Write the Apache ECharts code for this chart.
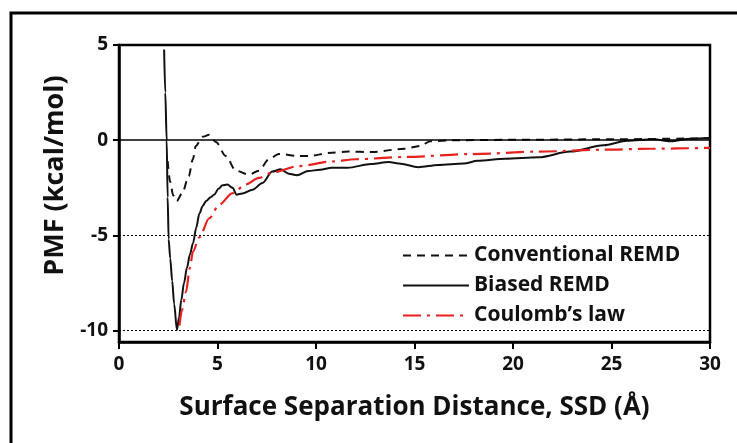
<!DOCTYPE html>
<html>
<head>
<meta charset="utf-8">
<script src="https://cdn.jsdelivr.net/npm/echarts@6/dist/echarts.min.js"></script>
<style>
  html, body { margin: 0; padding: 0; background: #fff; }
  #chart { width: 737px; height: 443px; }
</style>
</head>
<body>
<div id="chart"></div>
<script>
// 读图估计的数据
var conventionalX = [2.47, 2.6, 2.75, 2.93, 3.2, 3.54, 3.75, 3.9, 4.24, 4.58, 4.92, 5.42, 5.93, 6.6, 7.1, 7.61, 8.12, 9.12, 9.6, 10.8, 11.65, 12.8, 14.5, 15.3, 15.8, 17, 20, 25, 30];
var conventionalY = [-1.1, -2.2, -2.9, -3.2, -2.8, -1.9, -1.0, -0.3, 0.18, 0.28, -0.1, -0.83, -1.6, -1.81, -1.6, -1.0, -0.72, -0.83, -0.83, -0.66, -0.6, -0.62, -0.45, -0.3, -0.05, 0, 0.02, 0.05, 0.1];

var biasedX = [2.29, 2.35, 2.42, 2.47, 2.52, 2.6, 2.7, 2.8, 2.94, 3.05, 3.16, 3.3, 3.45, 3.6, 3.76, 3.92, 4.08, 4.25, 4.42, 4.65, 4.84, 5.05, 5.25, 5.5, 5.77, 5.96, 6.26, 6.78, 7.28, 7.78, 8.2, 8.62, 9.04, 9.6, 10.2, 10.8, 11.6, 12.8, 13.7, 14.2, 15.2, 16.2, 17.5, 18.2, 19.6, 21.3, 22.9, 24.6, 25.8, 27.1, 28, 29, 30];
var biasedY = [4.76, 2.5, 0, -3, -5.2, -6.2, -7.4, -8.6, -9.97, -9.3, -8.4, -7.5, -6.7, -6.0, -5.4, -4.6, -3.85, -3.45, -3.2, -3.0, -2.85, -2.55, -2.37, -2.33, -2.5, -2.86, -2.8, -2.6, -2.25, -1.65, -1.53, -1.76, -1.84, -1.62, -1.55, -1.45, -1.45, -1.25, -1.15, -1.22, -1.42, -1.3, -1.23, -1.08, -0.97, -0.9, -0.6, -0.27, -0.03, 0.05, -0.05, 0.08, 0.12];

var coulombX = [3.07, 3.2, 3.4, 3.6, 3.75, 4.08, 4.58, 5.08, 5.77, 6.43, 7.1, 7.78, 9.12, 10.8, 12, 14.5, 17.9, 21.3, 24.6, 27, 30];
var coulombY = [-9.74, -8.9, -7.98, -6.7, -5.86, -5.1, -4.1, -3.39, -2.78, -2.33, -1.98, -1.7, -1.36, -1.12, -1.0, -0.88, -0.73, -0.6, -0.5, -0.45, -0.4];

var yTicks = [-10, -5, 0, 5];
var legendNames = ['Conventional REMD', 'Biased REMD', "Coulomb’s law"];

function pairs(xs, ys) {
    return xs.map(function (x, i) { return [x, ys[i]]; });
}

var myChart = echarts.init(document.getElementById('chart'));
var font = 'Open Sans';

var option = {
    animation: false,
    backgroundColor: '#fff',
    graphic: [{
        type: 'rect',
        shape: { x: 11, y: 13, width: 900, height: 600 },
        style: { fill: 'none', stroke: '#000', lineWidth: 3 },
        silent: true
    }],
    grid: {
        left: 119, top: 45, right: 27, bottom: 101,
        show: true, borderColor: '#000', borderWidth: 2.5, backgroundColor: 'transparent'
    },
    legend: {
        orient: 'vertical',
        left: 397, top: 240,
        itemWidth: 66, itemHeight: 20, itemGap: 9,
        data: legendNames,
        itemStyle: { opacity: 0 },
        textStyle: { fontFamily: font, fontWeight: 'bold', fontSize: 21, color: '#111' }
    },
    xAxis: {
        type: 'value', min: 0, max: 30, interval: 5,
        name: 'Surface Separation Distance, SSD (Å)',
        nameLocation: 'middle', nameGap: 53,
        nameTextStyle: { fontFamily: font, fontWeight: 'bold', fontSize: 26, color: '#111' },
        axisLine: { onZero: false, lineStyle: { color: '#000', width: 2.5 } },
        axisTick: { show: true, length: 7, lineStyle: { color: '#000', width: 2 } },
        axisLabel: { fontFamily: font, fontWeight: 'bold', fontSize: 19, color: '#111', margin: 13 },
        splitLine: { show: false }
    },
    yAxis: {
        type: 'value', min: -10.6, max: 5,
        name: 'PMF (kcal/mol)',
        nameLocation: 'middle', nameGap: 47,
        nameTextStyle: { fontFamily: font, fontWeight: 'bold', fontSize: 27, color: '#111', padding: [0, 0, 0, 36] },
        axisLine: { show: true, onZero: false, lineStyle: { color: '#000', width: 2.5 } },
        axisTick: { show: true, length: 6, customValues: yTicks, lineStyle: { color: '#000', width: 2 } },
        axisLabel: { fontFamily: font, fontWeight: 'bold', fontSize: 19, color: '#111', margin: 11, customValues: yTicks },
        splitLine: { show: false }
    },
    series: [
        {
            name: legendNames[0], type: 'line', showSymbol: false, symbol: 'none',
            smooth: 0.3, smoothMonotone: 'x',
            data: pairs(conventionalX, conventionalY),
            lineStyle: { color: '#111', width: 2, type: [8, 6] },
            itemStyle: { color: '#111' },
            z: 3,
            markLine: {
                silent: true, symbol: 'none', label: { show: false },
                data: [
                    { yAxis: 0, lineStyle: { color: '#000', width: 1.5, type: 'solid' } },
                    { yAxis: -5, lineStyle: { color: '#000', width: 1, type: [2, 2] } },
                    { yAxis: -10, lineStyle: { color: '#000', width: 1, type: [2, 2] } }
                ]
            }
        },
        {
            name: legendNames[1], type: 'line', showSymbol: false, symbol: 'none',
            smooth: 0.3, smoothMonotone: 'x',
            data: pairs(biasedX, biasedY),
            lineStyle: { color: '#111', width: 2, type: 'solid' },
            itemStyle: { color: '#111' },
            z: 4
        },
        {
            name: legendNames[2], type: 'line', showSymbol: false, symbol: 'none',
            smooth: 0.3, smoothMonotone: 'x',
            data: pairs(coulombX, coulombY),
            lineStyle: { color: '#e8201e', width: 2.2, type: [18, 6, 3, 6] },
            itemStyle: { color: '#e8201e' },
            z: 5
        }
    ]
};

myChart.setOption(option);
</script>
</body>
</html>
